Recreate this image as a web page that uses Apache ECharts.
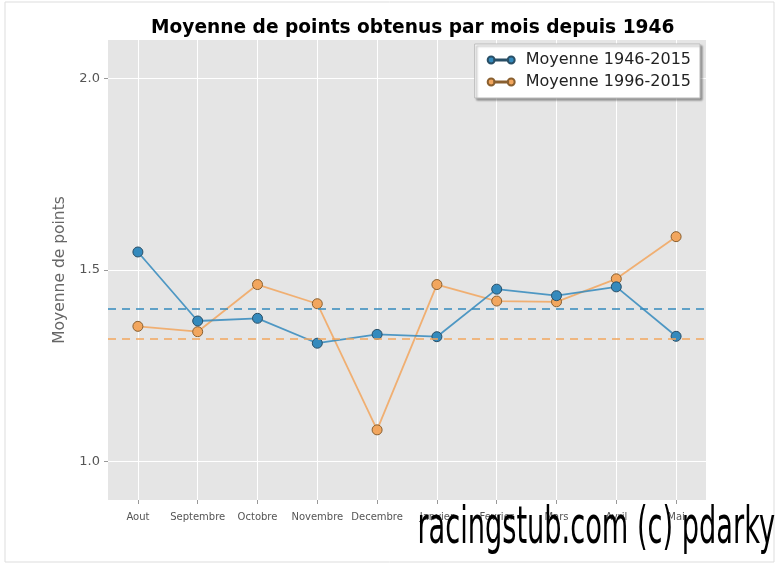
<!DOCTYPE html>
<html><head><meta charset="utf-8">
<script src="https://cdn.jsdelivr.net/npm/echarts@6/dist/echarts.min.js"></script>
<style>html,body{margin:0;padding:0;background:#fff}#c{width:779px;height:564px}</style>
</head><body><div id="c"></div>
<script>
const months = ['Aout','Septembre','Octobre','Novembre','Decembre','Janvier','Fevrier','Mars','Avril','Mai'];
const moyenne1946 = [1.547,1.367,1.374,1.309,1.332,1.326,1.450,1.433,1.456,1.327];
const moyenne1996 = [1.353,1.339,1.462,1.412,1.083,1.462,1.419,1.417,1.477,1.587];
const meanLines = [1.401, 1.325];
const yTicks = [1.0, 1.5, 2.0];
const seriesNames = ['Moyenne 1946-2015','Moyenne 1996-2015'];

const blue = '#348ABD', orange = '#F2A65E';
const legendIcon = 'path://M0.5,5 A4.5,4.5 0 1 1 9.5,5 A4.5,4.5 0 1 1 0.5,5 Z M9,4.3 L27,4.3 L27,5.7 L9,5.7 Z M26.5,5 A4.5,4.5 0 1 1 35.5,5 A4.5,4.5 0 1 1 26.5,5 Z';
const chart = echarts.init(document.getElementById('c'));
chart.setOption({
  backgroundColor: '#fff',
  animation: false,
  title: {
    text: 'Moyenne de points obtenus par mois depuis 1946',
    left: 146, top: 14,
    textStyle: {fontFamily: 'DejaVu Sans', fontSize: 18.6, fontWeight: 'bold', color: '#000'}
  },
  legend: {
    data: seriesNames.map(n => ({name: n, icon: legendIcon})),
    right: 79, top: 44, orient: 'vertical', z: 20,
    backgroundColor: '#fff', borderColor: '#bbb', borderWidth: 1,
    shadowColor: 'rgba(0,0,0,0.35)', shadowOffsetX: 2, shadowOffsetY: 2, shadowBlur: 2,
    padding: [8, 9, 8, 12], itemGap: 6, itemWidth: 27, itemHeight: 9,
    textStyle: {fontFamily: 'DejaVu Sans', fontSize: 16, color: '#222', padding: [0, 0, 0, 6]}
  },
  grid: {left: 108, right: 73, top: 40, bottom: 64, show: true, backgroundColor: '#E5E5E5', borderWidth: 0},
  xAxis: {
    type: 'category', data: months, boundaryGap: true,
    axisLine: {show: false},
    axisTick: {show: true, alignWithLabel: true, length: 4, lineStyle: {color: '#999'}},
    axisLabel: {fontFamily: 'DejaVu Sans', fontSize: 10, color: '#555', margin: 12, interval: 0},
    splitLine: {show: false}
  },
  yAxis: {
    type: 'value', min: 0.9, max: 2.1,
    name: 'Moyenne de points', nameLocation: 'middle', nameGap: 36,
    nameTextStyle: {fontFamily: 'DejaVu Sans', fontSize: 15.5, color: '#666'},
    axisLine: {show: false},
    axisTick: {show: true, customValues: yTicks, length: 4, lineStyle: {color: '#999'}},
    axisLabel: {customValues: yTicks, fontFamily: 'DejaVu Sans', fontSize: 13, color: '#555', margin: 8,
      formatter: v => v.toFixed(1)},
    splitLine: {show: true, lineStyle: {color: '#fff', width: 1}}
  },
  graphic: [
    {type: 'rect', shape: {x: 5, y: 2, width: 769, height: 560}, style: {fill: 'none', stroke: '#ddd', lineWidth: 1}, z: -1, silent: true},
    {type: 'text', right: 4, top: 503, z: 100,
      style: {text: 'racingstub.com (c) pdarky', fontFamily: 'DejaVu Sans', fontSize: 52, fill: '#000',
        textShadowColor: 'rgba(120,120,120,0.6)', textShadowOffsetX: 2, textShadowOffsetY: 2},
      scaleX: 0.523, originX: 775}
  ],
  series: [
    {
      type: 'line', name: '_grid', data: [], silent: true, z: 1, legendHoverLink: false,
      markLine: {silent: true, symbol: 'none', label: {show: false}, z: 1,
        lineStyle: {color: '#fff', type: 'solid', width: 1},
        data: months.map(m => ({xAxis: m}))}
    },
    {
      type: 'line', name: seriesNames[0], data: moyenne1946, z: 4,
      symbol: 'circle', symbolSize: 10,
      lineStyle: {color: blue, width: 1.8, opacity: 0.85},
      itemStyle: {color: blue, borderColor: '#2a4f66', borderWidth: 1},
      markLine: {silent: true, symbol: 'none', label: {show: false},
        lineStyle: {color: blue, type: [8, 6], width: 1.6},
        data: [{yAxis: meanLines[0]}]}
    },
    {
      type: 'line', name: seriesNames[1], data: moyenne1996, z: 3,
      symbol: 'circle', symbolSize: 10,
      lineStyle: {color: orange, width: 1.8, opacity: 0.85},
      itemStyle: {color: orange, borderColor: '#8a6030', borderWidth: 1},
      markLine: {silent: true, symbol: 'none', label: {show: false},
        lineStyle: {color: orange, type: [8, 6], width: 1.6},
        data: [{yAxis: meanLines[1]}]}
    }
  ]
});
</script></body></html>
